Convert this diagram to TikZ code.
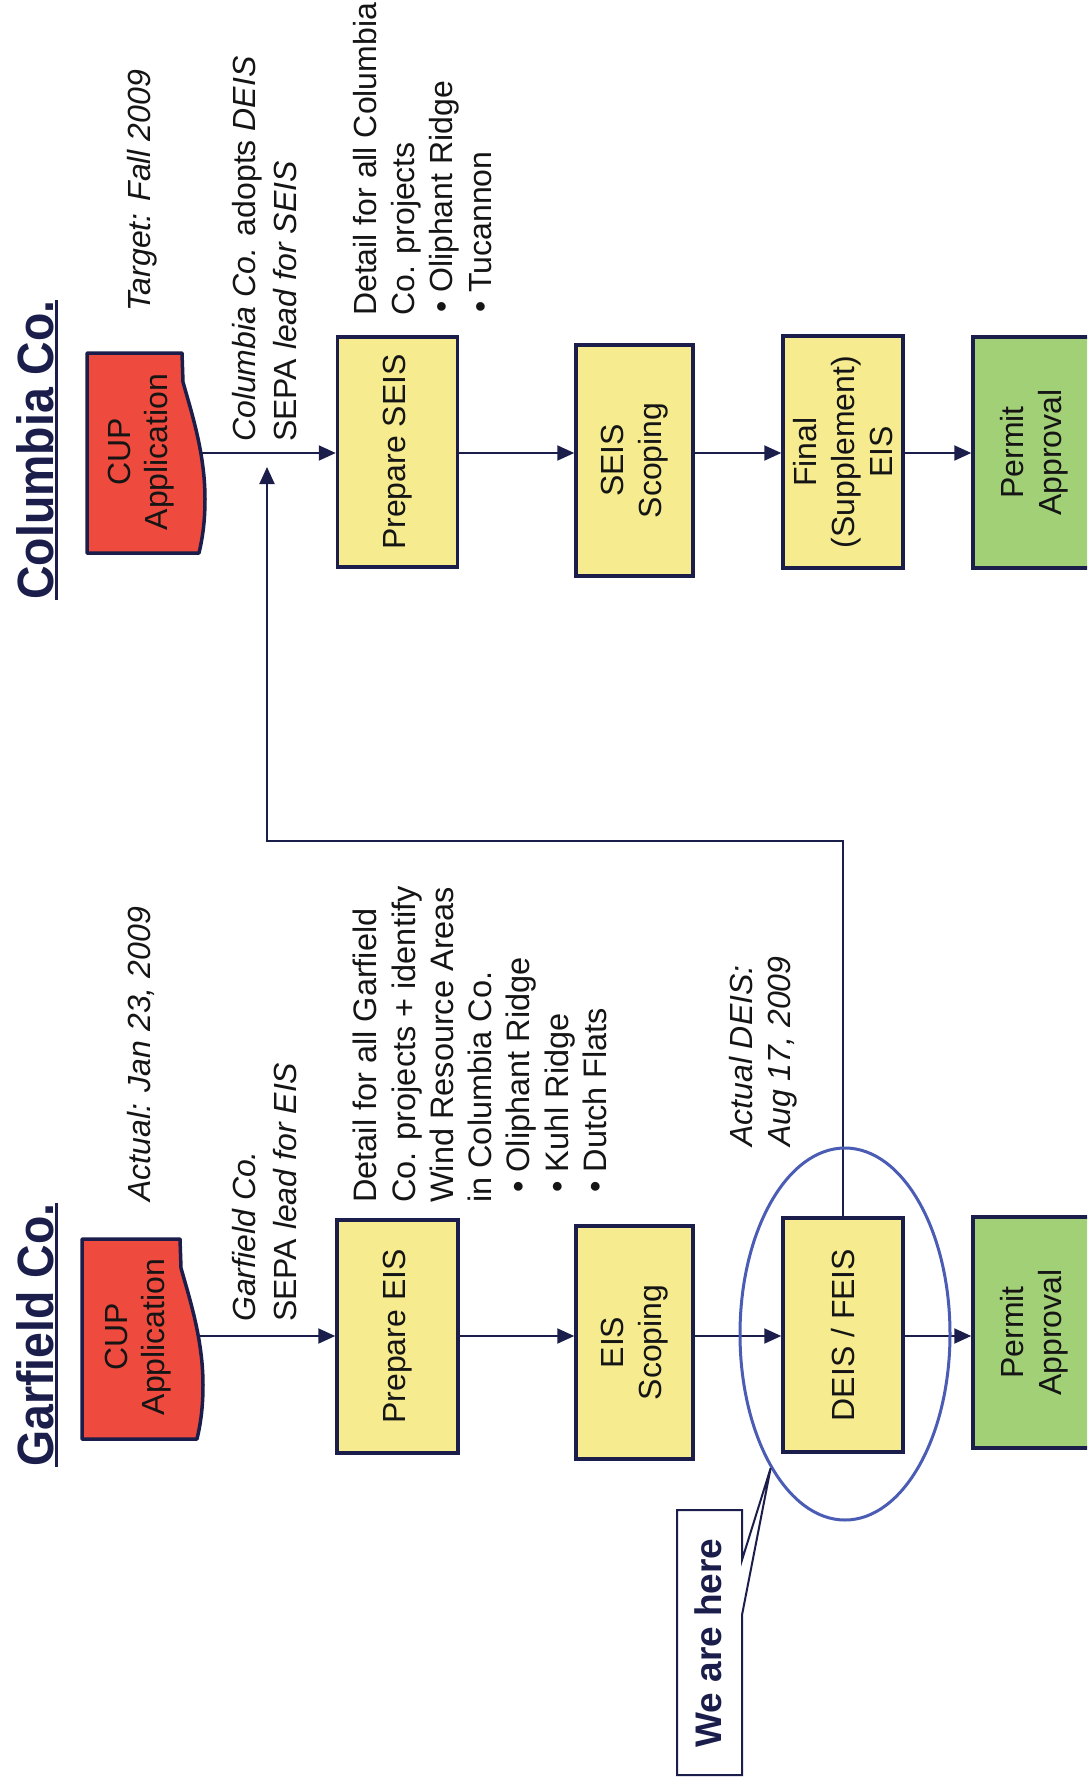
\documentclass[tikz,border=0pt]{standalone}
\usepackage{fontspec}
\setmainfont{Liberation Sans}
\newfontfamily\titlefont[FakeStretch=0.91]{Liberation Sans}
\usetikzlibrary{arrows.meta,shapes.geometric}

\definecolor{navy}{HTML}{1B1E4B}
\definecolor{inkblack}{HTML}{151515}
\definecolor{cupred}{HTML}{EE4A3D}
\definecolor{stepyellow}{HTML}{F6EC8F}
\definecolor{okgreen}{HTML}{A2D077}
\definecolor{ringblue}{HTML}{4A5CB3}

\begin{document}
\begin{tikzpicture}[x=1pt, y=-1pt,
  every node/.style={inner sep=0pt},
  txt/.style={rotate=90, text=inkblack},
  box/.style={txt, draw=navy, line width=3.5pt, align=center, font=\fontsize{32}{38}\selectfont},
  stepbox/.style={box, fill=stepyellow},
  donebox/.style={box, fill=okgreen},
  cuptext/.style={txt, align=center, font=\fontsize{32}{37}\selectfont},
  cupshape/.style={draw=navy, line width=3.5pt, fill=cupred, line join=round},
  title/.style={rotate=90, text=navy, font=\titlefont\bfseries\fontsize{51}{56}\selectfont},
  note/.style={txt, align=left, font=\fontsize{32}{41}\selectfont},
  detail/.style={txt, align=left, font=\fontsize{32.5}{38.3}\selectfont},
  arr/.style={draw=navy, line width=2pt, -{Triangle[length=17pt,width=15pt]}},
]
\useasboundingbox (0,0) rectangle (1087,1777);
\clip (0,0) rectangle (1087,1777);
\fill[white] (0,0) rectangle (1087,1777);

% row levels of the two process chains
\coordinate (grow) at (0,1336);
\coordinate (crow) at (0,453);

% ---------- titles ----------
\node[title, anchor=base] (gtitle) at (53,1335) {Garfield Co.};
\node[title, anchor=base] (ctitle) at (53,450) {Columbia Co.};
\draw[navy, line width=3pt] ([xshift=3.5pt]gtitle.base west) -- ([xshift=3.5pt]gtitle.base east);
\draw[navy, line width=3pt] ([xshift=3.5pt]ctitle.base west) -- ([xshift=3.5pt]ctitle.base east);

% ---------- dates ----------
\node[note, anchor=base west] (gdate) at (150,1202) {\itshape Actual: Jan 23, 2009};
\node[note, anchor=base west] (cdate) at (150,312) {\itshape Target: Fall 2009};

% ---------- CUP application documents ----------
\draw[cupshape] (82,1239) -- (180,1239) -- (181,1268)
  .. controls (190,1300) and (203,1340) .. (203,1385)
  .. controls (203,1410) and (200,1426) .. (197,1439) -- (82,1439) -- cycle;
\node[cuptext] (gcup) at (138,1337) {CUP\\Application};
\coordinate (gcupout) at (197,1336);

\draw[cupshape] (87,353) -- (182,353) -- (183,382)
  .. controls (192,414) and (205,454) .. (205,499)
  .. controls (205,524) and (202,540) .. (199,553) -- (87,553) -- cycle;
\node[cuptext] (ccup) at (141,452) {CUP\\Application};
\coordinate (ccupout) at (200,453);

% ---------- lead agency notes ----------
\node[note, anchor=north west] (glead) at (232,1322)
  {{\itshape Garfield Co.}\\SEPA {\itshape lead for EIS}};
\node[note, anchor=north west] (clead) at (232,442)
  {{\itshape Columbia Co.} adopts {\itshape DEIS}\\SEPA {\itshape lead for SEIS}};

% ---------- process steps, Garfield ----------
\node[stepbox, minimum width=233pt, minimum height=121pt] (pe) at (397.5,1336.5) {Prepare EIS};
\node[stepbox, minimum width=233pt, minimum height=117pt] (es) at (634.5,1342.5) {EIS\\Scoping};
\node[stepbox, minimum width=234pt, minimum height=120pt] (df) at (843,1335) {DEIS / FEIS};
\node[donebox, minimum width=231pt, minimum height=122pt] (gpa) at (1034,1332.5) {Permit\\Approval};

% ---------- process steps, Columbia ----------
\node[stepbox, minimum width=230pt, minimum height=120pt] (ps) at (397.5,452) {Prepare SEIS};
\node[stepbox, minimum width=231pt, minimum height=117pt] (ss) at (634.5,460.5) {SEIS\\Scoping};
\node[stepbox, minimum width=232pt, minimum height=120pt] (fs) at (843,452) {Final\\(Supplement)\\EIS};
\node[donebox, minimum width=231pt, minimum height=122pt] (cpa) at (1034,452.5) {Permit\\Approval};

% ---------- details ----------
\node[detail, anchor=north west] (gdet) at (353,1203)
  {Detail for all Garfield\\Co. projects + identify\\Wind Resource Areas\\in Columbia Co.\\
   \hspace*{10pt}\textbullet\ Oliphant Ridge\\\hspace*{10pt}\textbullet\ Kuhl Ridge\\\hspace*{10pt}\textbullet\ Dutch Flats};
\node[detail, anchor=north west, font=\fontsize{32}{38.3}\selectfont] (cdet) at (353,316)
  {Detail for all Columbia\\Co. projects\\\hspace*{3pt}\textbullet\ Oliphant Ridge\\\hspace*{3pt}\textbullet\ Tucannon};

\node[note, anchor=north west, font=\fontsize{32}{38}\selectfont] (deisdate) at (729,1147)
  {\itshape Actual DEIS:\\\itshape Aug 17, 2009};

% ---------- connectors ----------
\draw[arr] (gcupout) -- (pe.north |- grow);
\draw[arr] (pe.south |- grow) -- (es.north |- grow);
\draw[arr] (es.south |- grow) -- (df.north |- grow);
\draw[arr] (df.south |- grow) -- (gpa.north |- grow);

\draw[arr] (ccupout) -- (ps.north |- crow);
\draw[arr] (ps.south |- crow) -- (ss.north |- crow);
\draw[arr] (ss.south |- crow) -- (fs.north |- crow);
\draw[arr] (fs.south |- crow) -- (cpa.north |- crow);

\coordinate (fbcorner) at (267,841);
\coordinate (fbtip) at (267,467);
\draw[arr] (df.east) |- (fbcorner) -- (fbtip);

% ---------- current position marker ----------
\node[draw=ringblue, line width=3pt, ellipse, minimum width=210pt, minimum height=372pt] (ring) at (845,1334) {};
\draw[navy, line width=2pt, fill=white, line join=miter]
  (677,1510) -- (742,1510) -- (742,1560) -- (ring.241) -- (742,1615) -- (742,1775) -- (677,1775) -- cycle;
\node[rotate=90, anchor=base, text=navy, font=\bfseries\fontsize{37}{40}\selectfont] (here) at (721,1643) {We are here};
\end{tikzpicture}
\end{document}
